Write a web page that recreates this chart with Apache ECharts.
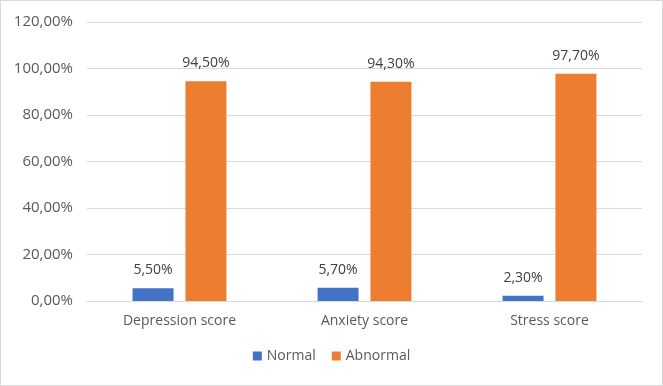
<!DOCTYPE html>
<html>
<head>
<meta charset="utf-8">
<script src="https://cdn.jsdelivr.net/npm/echarts@6/dist/echarts.min.js"></script>
<style>
html, body { margin: 0; padding: 0; background: #fff; }
#chart { width: 661px; height: 384px; border: 1px solid #d9d9d9; }
</style>
</head>
<body>
<div id="chart"></div>
<script>
// data
let categories = ['Depression score', 'Anxiety score', 'Stress score'];
let normal = [5.5, 5.7, 2.3];
let abnormal = [94.5, 94.3, 97.7];
let seriesNames = ['Normal', 'Abnormal'];

let fmt = v => v.toFixed(2).replace('.', ',') + '%';
let font = '"Open Sans", "Liberation Sans", sans-serif';

let chart = echarts.init(document.getElementById('chart'));
chart.setOption({
    animation: false,
    textStyle: { fontFamily: font },
    grid: { left: 86, right: 20, top: 21, bottom: 84 },
    legend: {
        bottom: 17, left: 'center', itemWidth: 9, itemHeight: 9, itemGap: 16,
        icon: 'rect',
        textStyle: { color: '#595959', fontSize: 14, fontFamily: font }
    },
    xAxis: {
        type: 'category', data: categories,
        axisTick: { show: false },
        axisLine: { lineStyle: { color: '#d9d9d9' } },
        axisLabel: { color: '#595959', fontSize: 14, margin: 13, fontFamily: font }
    },
    yAxis: {
        type: 'value', min: 0, max: 120, interval: 20,
        axisLabel: { color: '#595959', fontSize: 15, margin: 14, formatter: fmt, fontFamily: font },
        splitLine: { lineStyle: { color: '#d9d9d9' } }
    },
    series: [
        {
            name: seriesNames[0], type: 'bar', data: normal,
            barWidth: 41, barGap: '29%',
            itemStyle: { color: '#4472C4' },
            label: { show: true, position: 'top', distance: 11, color: '#404040', fontSize: 14, formatter: p => fmt(p.value), fontFamily: font }
        },
        {
            name: seriesNames[1], type: 'bar', data: abnormal,
            barWidth: 41,
            itemStyle: { color: '#ED7D31' },
            label: { show: true, position: 'top', distance: 11, color: '#404040', fontSize: 14, formatter: p => fmt(p.value), fontFamily: font }
        }
    ]
});
</script>
</body>
</html>
